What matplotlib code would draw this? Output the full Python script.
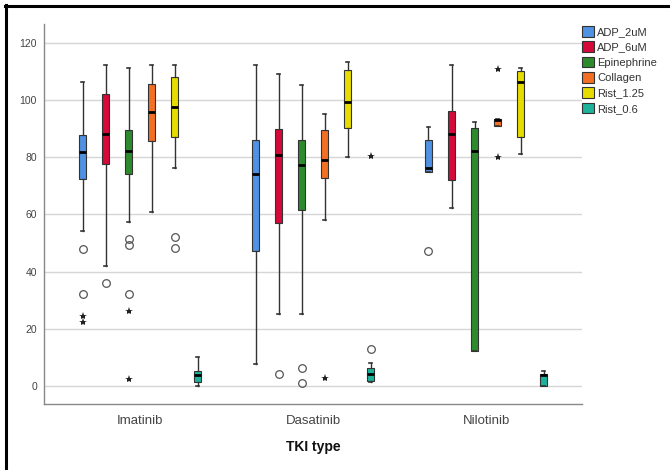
import matplotlib
matplotlib.use('Agg')
import matplotlib.pyplot as plt
import numpy as np
from matplotlib.patches import Patch
from matplotlib.lines import Line2D

plt.rcParams['font.family'] = ['Liberation Sans', 'DejaVu Sans']

tki = ['Imatinib', 'Dasatinib', 'Nilotinib']
agonists = ['ADP_2uM', 'ADP_6uM', 'Epinephrine', 'Collagen', 'Rist_1.25', 'Rist_0.6']
colors = ['#4f91e3', '#d5093a', '#2d8a2d', '#f26f23', '#e6dc00', '#1db39b']

# per agonist, values for [Imatinib, Dasatinib, Nilotinib]
whis_hi = {'ADP_2uM': [106.2, 112.3, 90.5], 'ADP_6uM': [112.2, 109.3, 112.4],
           'Epinephrine': [111.3, 105.2, 92.4], 'Collagen': [112.2, 95.2, 93.5],
           'Rist_1.25': [112.2, 113.2, 111.3], 'Rist_0.6': [10.0, 8.2, 5.1]}
q3 = {'ADP_2uM': [87.7, 86.2, 86.2], 'ADP_6uM': [102.3, 89.9, 96.3],
      'Epinephrine': [89.4, 86.2, 90.2], 'Collagen': [105.6, 89.7, 93.5],
      'Rist_1.25': [108.1, 110.7, 110.3], 'Rist_0.6': [5.2, 6.2, 4.2]}
med = {'ADP_2uM': [81.7, 74.1, 76.1], 'ADP_6uM': [88.0, 80.9, 88.1],
       'Epinephrine': [82.3, 77.2, 82.2], 'Collagen': [95.7, 79.2, 93.2],
       'Rist_1.25': [97.6, 99.2, 106.2], 'Rist_0.6': [3.7, 4.3, 3.7]}
q1 = {'ADP_2uM': [72.5, 47.2, 75.0], 'ADP_6uM': [77.6, 57.1, 72.0],
      'Epinephrine': [74.1, 61.5, 12.1], 'Collagen': [85.8, 72.7, 91.1],
      'Rist_1.25': [87.2, 90.2, 87.2], 'Rist_0.6': [1.4, 1.9, 0.1]}
whis_lo = {'ADP_2uM': [54.2, 7.8, 75.0], 'ADP_6uM': [42.1, 25.2, 62.1],
           'Epinephrine': [57.2, 25.2, 12.1], 'Collagen': [61.0, 58.1, 91.1],
           'Rist_1.25': [76.1, 80.0, 81.1], 'Rist_0.6': [0.0, 1.3, 0.1]}

# outliers (circles) and extremes (stars)
circles = {'ADP_2uM': [[48.0, 32.2], [], [47.3]], 'ADP_6uM': [[36.0], [4.3], []],
           'Epinephrine': [[51.4, 49.3, 32.2], [6.2, 1.2], []], 'Collagen': [[], [], []],
           'Rist_1.25': [[52.2, 48.1], [], []], 'Rist_0.6': [[], [13.1], []]}
stars = {'ADP_2uM': [[24.6, 22.3], [], []], 'ADP_6uM': [[], [], []],
         'Epinephrine': [[26.3, 2.3], [], []], 'Collagen': [[], [2.9], [111.0, 80.2]],
         'Rist_1.25': [[], [], []], 'Rist_0.6': [[], [80.3], []]}

fig = plt.figure(figsize=(6.7, 4.7), dpi=100)
ax = fig.add_axes([0.0657, 0.1404, 0.803, 0.8096])

step = 0.133
for j, ag in enumerate(agonists):
    off = (j - 2.5) * step
    stats = []
    for i in range(len(tki)):
        stats.append({'med': med[ag][i], 'q1': q1[ag][i], 'q3': q3[ag][i],
                      'whislo': whis_lo[ag][i], 'whishi': whis_hi[ag][i], 'fliers': []})
    pos = np.arange(len(tki)) + off
    ax.bxp(stats, positions=pos, widths=0.042, capwidths=0.02, patch_artist=True,
           showfliers=False,
           boxprops=dict(facecolor=colors[j], edgecolor='#333333', linewidth=0.8),
           medianprops=dict(color='black', linewidth=2),
           whiskerprops=dict(color='#333333', linewidth=1),
           capprops=dict(color='#333333', linewidth=1.2))
    for i in range(len(tki)):
        c = circles[ag][i]
        ax.plot([pos[i]] * len(c), c, 'o', mfc='none', mec='#555555', ms=5.5, mew=0.9, zorder=4)
        s = stars[ag][i]
        ax.plot([pos[i]] * len(s), s, '*', color='#222222', ms=6, mew=0, zorder=4)

ax.set_xlim(-0.555, 2.555)
ax.set_ylim(-6.3, 126.8)
ax.set_yticks([0, 20, 40, 60, 80, 100, 120])
ax.set_xticks(range(len(tki)))
ax.set_xticklabels(tki, fontsize=9.5, color='#444444')
ax.tick_params(axis='y', labelsize=7.5, labelcolor='#444444', length=0, pad=5)
ax.tick_params(axis='x', length=0, pad=8)
ax.grid(axis='y', color='#d6d6d6', linewidth=1)
ax.set_axisbelow(True)
for side in ['top', 'right']:
    ax.spines[side].set_visible(False)
for side in ['left', 'bottom']:
    ax.spines[side].set_color('#888888')
    ax.spines[side].set_linewidth(1)
ax.set_xlabel('TKI type', fontsize=10, fontweight='bold', color='#111111', labelpad=9)

handles = [Patch(facecolor=c, edgecolor='#333333', linewidth=0.8) for c in colors]
fig.legend(handles, agonists, loc='upper left', bbox_to_anchor=(582 / 670, 1 - 26 / 470),
           frameon=False, fontsize=8, handlelength=1.1, handleheight=1.1,
           handletextpad=0.25, labelspacing=0.38, borderpad=0, borderaxespad=0,
           labelcolor='#333333')

# frame edges of the original screenshot
fig.add_artist(Line2D([5 / 670, 1], [1 - 6 / 470, 1 - 6 / 470], color='black', linewidth=2.2))
fig.add_artist(Line2D([6 / 670, 6 / 670], [0, 1 - 5 / 470], color='black', linewidth=2.2))

fig.savefig('out.png', dpi=100)
